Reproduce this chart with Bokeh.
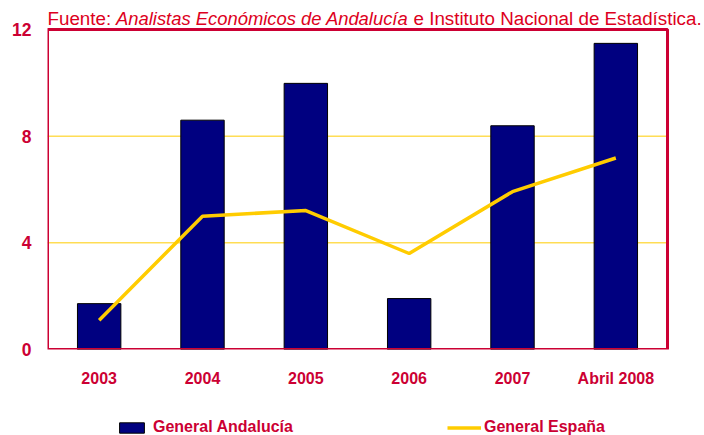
from bokeh.plotting import figure
from bokeh.layouts import column
from bokeh.models import (Range1d, FixedTicker, Legend, LegendItem, ColumnDataSource)
from bokeh.core.properties import value
from bokeh.embed import file_html
from bokeh.resources import INLINE

# ---- data ----
categories = ["2003", "2004", "2005", "2006", "2007", "Abril 2008"]
andalucia = [1.72, 8.60, 9.98, 1.91, 8.39, 11.48]
espana = [1.10, 5.00, 5.21, 3.60, 5.92, 7.18]
y_ticks = [0, 4, 8, 12]
grid_ticks = [4, 8]
series_names = ["General Andalucía", "General España"]
source_parts = ["Fuente: ", "Analistas Económicos de Andalucía",
                " e Instituto Nacional de Estadística."]

CRIMSON = "#CC0033"
TITLE_RED = "#DD0020"
NAVY = "#000080"
GOLD = "#FFCC00"
FONT = "Liberation Sans"

n = len(categories)
xpos = [i + 0.5 for i in range(n)]
src = ColumnDataSource(dict(x=xpos, and_=andalucia, esp=espana))

# frame spans the title area too (so the source line is not clipped)
p = figure(width=704, height=405, output_backend="svg", toolbar_location=None,
           x_range=Range1d(0, 6.358), y_range=Range1d(0, 13.0875),
           min_border_left=47, min_border_right=0, min_border_top=0,
           min_border_bottom=56)
p.background_fill_color = "white"
p.border_fill_color = "white"
p.outline_line_color = None

# grid lines (only inside the plot box)
p.segment(x0=[0] * len(grid_ticks), x1=[n] * len(grid_ticks),
          y0=grid_ticks, y1=grid_ticks, line_color=GOLD, line_width=1)

bars = p.vbar(x="x", top="and_", width=0.42, source=src,
              fill_color=NAVY, line_color="black", line_width=1)
line = p.line(x="x", y="esp", source=src, line_color=GOLD, line_width=3.5)

# plot box border
p.quad(left=[0], right=[n], bottom=[y_ticks[0]], top=[y_ticks[-1]],
       fill_color=None, line_color=CRIMSON, line_width=3)

# axes
for ax in (p.xaxis[0], p.yaxis[0]):
    ax.axis_line_color = None
    ax.major_tick_line_color = None
    ax.minor_tick_line_color = None
    ax.major_tick_out = 0
    ax.major_tick_in = 0
    ax.major_label_text_color = CRIMSON
    ax.major_label_text_font = FONT
    ax.major_label_text_font_style = "bold"
p.xaxis.ticker = FixedTicker(ticks=xpos)
p.xaxis.major_label_overrides = {x: c for x, c in zip(xpos, categories)}
p.xaxis.major_label_text_font_size = "16px"
p.xaxis.major_label_standoff = 20
p.yaxis.major_label_text_font_size = "17.5px"
p.yaxis.major_label_standoff = 16
p.yaxis.ticker = FixedTicker(ticks=y_ticks)
p.xgrid.visible = False
p.ygrid.visible = False

# source line (mixed normal / italic), centred ~11.5 px above the box
title_y = y_ticks[-1] + 11.5 / 26.667
offsets = [0, 68.5, 366]
styles = ["normal", "italic", "normal"]
sizes = ["18.8px", "18.4px", "18.8px"]
for txt, xo, st, fs in zip(source_parts, offsets, styles, sizes):
    p.text(x=[0], y=[title_y], text=[txt], x_offset=xo,
           text_color=TITLE_RED, text_font=value(FONT),
           text_font_size=fs, text_font_style=st,
           text_baseline="middle", text_align="left")

# legend strip
lf = figure(width=704, height=30, output_backend="svg", toolbar_location=None,
            x_range=Range1d(0, 1), y_range=Range1d(0, 1),
            x_axis_type=None, y_axis_type=None,
            min_border_left=0, min_border_right=0, min_border_top=0,
            min_border_bottom=0)
lf.outline_line_color = None
lf.xgrid.visible = False
lf.ygrid.visible = False
# off-screen proxies that only feed the legend swatches
lbars = lf.vbar(x=[5], top=[5], bottom=[4], width=0.1, fill_color=NAVY,
                line_color="black", line_width=1)
lline = lf.line(x=[5, 6], y=[5, 5], line_color=GOLD, line_width=3.5)

leg1 = Legend(items=[LegendItem(label=series_names[0], renderers=[lbars])],
              location=(69, -1), glyph_width=31, glyph_height=13,
              label_standoff=6)
leg2 = Legend(items=[LegendItem(label=series_names[1], renderers=[lline])],
              location=(400, -1), glyph_width=34, glyph_height=13,
              label_standoff=3)
for lg in (leg1, leg2):
    lg.border_line_color = None
    lg.background_fill_alpha = 0
    lg.padding = 0
    lg.margin = 0
    lg.label_text_color = CRIMSON
    lg.label_text_font = FONT
    lg.label_text_font_style = "bold"
    lg.label_text_font_size = "16px"
    lg.label_height = 16
    lf.add_layout(lg, "center")

layout = column(p, lf, spacing=0)
open("out.html", "w").write(file_html(layout, INLINE))
